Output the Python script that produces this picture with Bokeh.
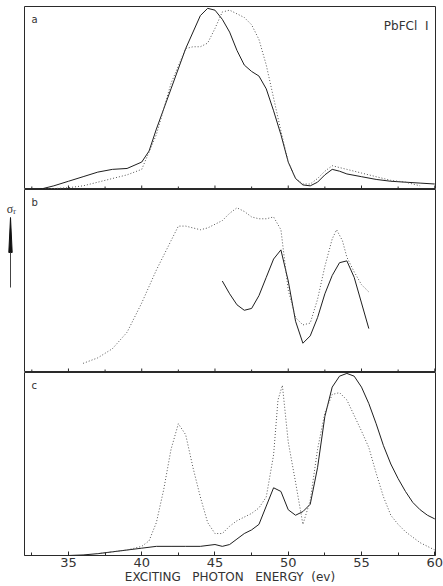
from bokeh.plotting import figure
from bokeh.layouts import column, row
from bokeh.models import Range1d, Label, FixedTicker
from bokeh.embed import file_html
from bokeh.resources import INLINE

# ---------------- data ----------------
tick_values = [35, 40, 45, 50, 55, 60]
minor_tick_values = [32.5, 37.5, 42.5, 47.5, 52.5, 57.5]
tick_labels = ["35", "40", "45", "50", "55", "60"]

# panel a
a_solid_e = [33, 34, 35, 36, 37, 38, 39, 40, 40.5, 41, 42, 43, 44, 44.5, 45, 45.5, 46, 46.5, 47, 47.5,
             48, 48.5, 49, 49.5, 50, 50.5, 51, 51.5, 52, 52.5, 53, 53.5, 54, 55, 56, 57, 58, 59, 60]
a_solid_v = [0.0, 0.02, 0.045, 0.07, 0.095, 0.11, 0.115, 0.15, 0.21, 0.33, 0.55, 0.77, 0.95, 0.99, 0.98,
             0.93, 0.86, 0.76, 0.68, 0.645, 0.62, 0.55, 0.43, 0.30, 0.15, 0.06, 0.025, 0.02, 0.04,
             0.08, 0.11, 0.10, 0.085, 0.07, 0.055, 0.045, 0.04, 0.035, 0.03]
a_dot_e = [33, 35, 36, 37, 38, 39, 40, 41, 42, 43, 43.5, 44, 44.5, 45, 45.5, 46, 46.5, 47, 47.5, 48,
           48.5, 49, 49.5, 50, 50.5, 51, 51.5, 52, 52.5, 53, 53.5, 54, 55, 56, 57, 58, 59]
a_dot_v = [0.0, 0.01, 0.02, 0.04, 0.06, 0.08, 0.11, 0.30, 0.58, 0.77, 0.78, 0.78, 0.80, 0.88, 0.97, 0.98,
           0.96, 0.94, 0.90, 0.82, 0.68, 0.50, 0.32, 0.15, 0.06, 0.03, 0.03, 0.06, 0.10, 0.13, 0.12,
           0.11, 0.09, 0.07, 0.05, 0.04, 0.02]

# panel b
b_solid_e = [45.5, 46, 46.5, 47, 47.5, 48, 48.5, 49, 49.5, 50, 50.5, 51, 51.5, 52, 52.5, 53, 53.5, 54,
             54.5, 55, 55.5]
b_solid_v = [0.50, 0.43, 0.37, 0.34, 0.35, 0.42, 0.52, 0.62, 0.67, 0.50, 0.28, 0.16, 0.20, 0.30, 0.43,
             0.53, 0.60, 0.61, 0.52, 0.38, 0.24]
b_dot_e = [36, 37, 38, 39, 40, 41, 42, 42.5, 43, 43.5, 44, 44.5, 45, 45.5, 46, 46.5, 47, 47.5, 48, 48.5,
           49, 49.5, 50, 50.5, 51, 51.5, 52, 52.5, 53, 53.3, 53.7, 54, 54.5, 55, 55.5]
b_dot_v = [0.05, 0.08, 0.13, 0.22, 0.38, 0.56, 0.72, 0.80, 0.80, 0.79, 0.78, 0.79, 0.81, 0.83, 0.87, 0.90,
           0.88, 0.85, 0.84, 0.84, 0.85, 0.78, 0.45, 0.30, 0.26, 0.27, 0.40, 0.58, 0.73, 0.78, 0.72,
           0.63, 0.55, 0.48, 0.44]

# panel c
c_solid_e = [34, 35, 36, 37, 38, 39, 40, 41, 42, 43, 44, 45, 45.5, 46, 46.5, 47, 47.5, 48, 48.5, 49,
             49.5, 50, 50.5, 51, 51.5, 52, 52.5, 53, 53.5, 54, 54.5, 55, 55.5, 56, 56.5, 57, 57.5, 58,
             58.5, 59, 59.5, 60]
c_solid_v = [0.0, 0.0, 0.003, 0.01, 0.02, 0.03, 0.04, 0.05, 0.05, 0.05, 0.05, 0.06, 0.05, 0.06, 0.09,
             0.12, 0.14, 0.17, 0.27, 0.37, 0.35, 0.25, 0.22, 0.24, 0.28, 0.48, 0.76, 0.92, 0.98, 0.995,
             0.98, 0.92, 0.83, 0.72, 0.60, 0.50, 0.42, 0.35, 0.29, 0.25, 0.22, 0.20]
c_dot_e = [37, 38, 39, 40, 40.5, 41, 41.5, 42, 42.5, 43, 43.5, 44, 44.5, 45, 45.5, 46, 46.5, 47, 47.5,
           48, 48.5, 49, 49.3, 49.6, 50, 50.5, 51, 51.5, 52, 52.5, 53, 53.5, 54, 55, 55.5, 56, 56.5,
           57, 57.5, 58, 59, 60]
c_dot_v = [0.01, 0.02, 0.03, 0.05, 0.08, 0.18, 0.36, 0.58, 0.72, 0.66, 0.48, 0.32, 0.18, 0.12, 0.12,
           0.16, 0.19, 0.21, 0.23, 0.26, 0.32, 0.55, 0.85, 0.93, 0.62, 0.40, 0.17, 0.30, 0.58, 0.78,
           0.88, 0.89, 0.85, 0.68, 0.59, 0.45, 0.32, 0.22, 0.17, 0.13, 0.07, 0.03]

FONT = "DejaVu Sans"
INK = "#2a2a2a"
FRAME_W, FRAME_H = 411, 183
NB = "\u00a0"
xr = Range1d(32.0, 60.05)

solid_kw = dict(line_color="#1e1e1e", line_width=1.0)
dot_kw = dict(line_color="#555555", line_width=1, line_dash="1 2")


def make_panel(top_border, with_axis):
    p = figure(frame_width=FRAME_W, frame_height=FRAME_H, x_range=xr, y_range=Range1d(0, 1),
               output_backend="svg", toolbar_location=None,
               min_border_left=0, min_border_right=8, min_border_top=top_border,
               min_border_bottom=0)
    p.yaxis.visible = False
    p.grid.visible = False
    p.outline_line_color = INK
    p.outline_line_width = 1
    if with_axis:
        ax = p.xaxis[0]
        ax.ticker = FixedTicker(ticks=tick_values, minor_ticks=minor_tick_values)
        ax.major_label_overrides = {v: s for v, s in zip(tick_values, tick_labels)}
        ax.major_tick_in = 4
        ax.major_tick_out = 0
        ax.minor_tick_in = 3
        ax.minor_tick_out = 0
        ax.axis_line_color = INK
        ax.major_tick_line_color = INK
        ax.minor_tick_line_color = INK
        ax.major_label_text_font = FONT
        ax.major_label_text_font_size = "13px"
        ax.major_label_text_color = "#333333"
        ax.major_label_standoff = 2
        ax.axis_label = ("EXCITING" + NB * 3 + "PHOTON" + NB * 3 + "ENERGY" + NB * 2 + "(ev)")
        ax.axis_label_text_font = FONT
        ax.axis_label_text_font_size = "12px"
        ax.axis_label_text_font_style = "normal"
        ax.axis_label_text_color = "#333333"
        ax.axis_label_standoff = 0
    else:
        p.xaxis.visible = False
        # inward tick marks on the shared separator line
        maj = 4.0 / FRAME_H
        mnr = 3.0 / FRAME_H
        p.segment(x0=tick_values, y0=[0] * len(tick_values), x1=tick_values,
                  y1=[maj] * len(tick_values), line_color=INK, line_width=1)
        p.segment(x0=minor_tick_values, y0=[0] * len(minor_tick_values), x1=minor_tick_values,
                  y1=[mnr] * len(minor_tick_values), line_color=INK, line_width=1)
    return p


pa = make_panel(6, False)
pb = make_panel(0, False)
pc = make_panel(0, True)

pa.line(a_solid_e, a_solid_v, **solid_kw)
pa.line(a_dot_e, a_dot_v, **dot_kw)
pb.line(b_solid_e, b_solid_v, **solid_kw)
pb.line(b_dot_e, b_dot_v, **dot_kw)
pc.line(c_solid_e, c_solid_v, **solid_kw)
pc.line(c_dot_e, c_dot_v, **dot_kw)

lab_kw = dict(text_font=FONT, text_font_size="10px", text_color="#333333",
              x_units="screen", y_units="screen")
for p, t in ((pa, "a"), (pb, "b"), (pc, "c")):
    p.add_layout(Label(x=7, y=165, text=t, **lab_kw))

pa.add_layout(Label(x=404, y=157, text="PbFCl" + NB * 2 + "I", text_align="right", text_font=FONT,
                    text_font_size="12px", text_color="#333333",
                    x_units="screen", y_units="screen"))

# left strip carrying the sigma_r label and its arrow (pixel-like coordinates, top down)
side = figure(frame_width=24, frame_height=586, x_range=Range1d(0, 24), y_range=Range1d(586, 0),
              output_backend="svg", toolbar_location=None,
              min_border_left=0, min_border_right=0, min_border_top=0, min_border_bottom=0)
side.axis.visible = False
side.grid.visible = False
side.outline_line_color = None
side.text(x=[9.5], y=[208], text=["σ"], text_font=FONT, text_font_size="12px",
          text_color="#333333", text_align="center", text_baseline="alphabetic")
side.text(x=[14], y=[211], text=["r"], text_font=FONT, text_font_size="8px",
          text_color="#333333", text_align="center", text_baseline="alphabetic")
side.patch(x=[8.3, 10, 11.7], y=[252, 217, 252], fill_color="#111111", line_color="#111111")
side.segment(x0=[10], y0=[252], x1=[10], y1=[287], line_color="#444444", line_width=1)

layout = row(side, column(pa, pb, pc, spacing=0), spacing=0)
open("out.html", "w").write(file_html(layout, INLINE))
